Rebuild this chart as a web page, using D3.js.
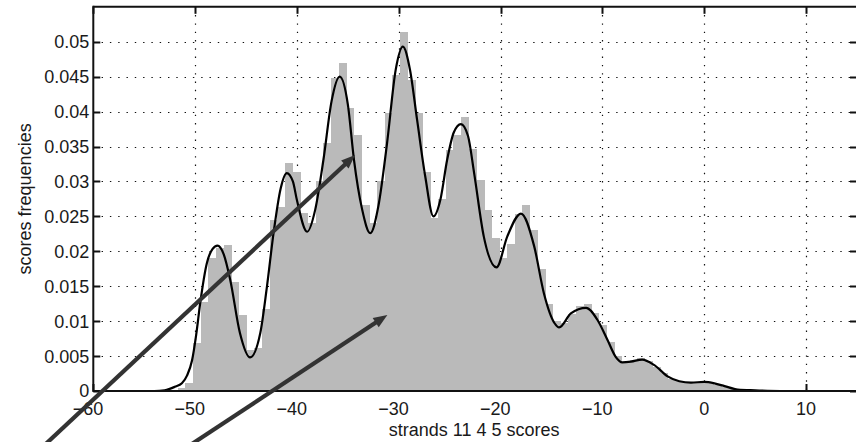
<!DOCTYPE html>
<html><head><meta charset="utf-8">
<script src="https://cdn.jsdelivr.net/npm/d3@7"></script>
<style>
html,body{margin:0;padding:0;background:#fff;overflow:hidden}
svg{display:block}
text{font-family:"Liberation Sans",Arial,Helvetica,sans-serif;fill:#1a1a1a}
</style></head><body>
<svg id="chart" width="856" height="442"></svg>
<script>
// Histogram of scores: equal-width bins starting at binStart
const binStart = -51.7;
const binWidth = 0.752;
const binFreq = [
  0.0004, 0.0011, 0.0068, 0.0128, 0.0190, 0.0205, 0.0209, 0.0156, 0.0109, 0.0058,
  0.0062, 0.0118, 0.0245, 0.0264, 0.0326, 0.0314, 0.0255, 0.0240, 0.0300, 0.0355,
  0.0448, 0.0469, 0.0405, 0.0366, 0.0266, 0.0240, 0.0300, 0.0398, 0.0452, 0.0514,
  0.0445, 0.0398, 0.0314, 0.0247, 0.0275, 0.0345, 0.0366, 0.0392, 0.0347, 0.0302,
  0.0259, 0.0219, 0.0190, 0.0210, 0.0254, 0.0266, 0.0230, 0.0175, 0.0125, 0.0100,
  0.0098, 0.0110, 0.0122, 0.0124, 0.0112, 0.0095, 0.0070, 0.0050, 0.0042, 0.0045,
  0.0047, 0.0043, 0.0035, 0.0026, 0.0017, 0.0014, 0.0013, 0.0013, 0.0013, 0.0011,
  0.0008, 0.0006, 0.0003, 0.0001
];

// Smoothed density estimate of the same scores
const curveX = [
  -58, -54, -53, -52.5, -52, -51.3, -50.8, -50.3, -49.9, -49.5,
  -48.85, -48.3, -47.8, -47.2, -46.55, -45.6, -44.6, -43.6, -42.95, -42.3,
  -41.6, -41.0, -40.4, -40.0, -39.0, -38.2, -37.4, -36.6, -35.8, -35.0,
  -34.4, -33.6, -32.8, -32.0, -31.15, -30.3, -29.6, -28.9, -28.2, -27.4,
  -26.6, -25.9, -25.25, -24.6, -23.9, -23.2, -22.6, -21.65, -20.4, -19.35,
  -18.0, -16.7, -15.75, -14.7, -14.25, -13.1, -11.6, -10.5, -9.5, -8.7,
  -8.05, -7.2, -6.1, -4.9, -3.6, -2.45, -1.3, 0, 1, 2,
  3.3, 5, 8.2
];
const curveY = [
  0, 0, 0.0001, 0.0003, 0.0006, 0.0011, 0.0022, 0.0044, 0.0080, 0.0126,
  0.0183, 0.0203, 0.0208, 0.0196, 0.0159, 0.0083, 0.0048, 0.0083, 0.0149, 0.0226,
  0.0290, 0.0312, 0.0300, 0.0273, 0.0228, 0.0260, 0.0331, 0.0415, 0.0450, 0.0410,
  0.0331, 0.0260, 0.0226, 0.0265, 0.0355, 0.0460, 0.0493, 0.0460, 0.0388, 0.0307,
  0.0250, 0.0275, 0.0331, 0.0370, 0.0382, 0.0365, 0.0312, 0.0221, 0.0177, 0.0221,
  0.0254, 0.0207, 0.0140, 0.0097, 0.0091, 0.0111, 0.0119, 0.0102, 0.0073, 0.0049,
  0.0041, 0.0042, 0.0045, 0.0037, 0.0021, 0.0014, 0.0012, 0.0013, 0.0011, 0.0007,
  0.0002, 0.0001, 0.0
];

const xTicks = [-60, -50, -40, -30, -20, -10, 0, 10];
const xTickLabels = ["\u221260", "\u221250", "\u221240", "\u221230", "\u221220", "\u221210", "0", "10"];
const yTicks = [0, 0.005, 0.01, 0.015, 0.02, 0.025, 0.03, 0.035, 0.04, 0.045, 0.05];
const yTickLabels = ["0", "0.005", "0.01", "0.015", "0.02", "0.025", "0.03", "0.035", "0.04", "0.045", "0.05"];
const xLabel = "strands 11 4 5 scores";
const yLabel = "scores frequencies";

// Annotation arrows, in data units (tails run off the bottom of the figure)
const arrowFrom = [[-67.4, -0.0113], [-54.18, -0.0113]];
const arrowTo = [[-34.29, 0.03378], [-31.12, 0.01088]];

const svg = d3.select("#chart");
const pL = 93.3, pR = 857, pT = 6.8, pB = 391;
const x = d3.scaleLinear().domain([-60, 15]).range([pL, pR]);
const y = d3.scaleLinear().domain([0, 0.055]).range([pB, pT]);
const ink = "#111";

// dotted grid
const grid = svg.append("g").attr("stroke", ink).attr("stroke-width", 1.2)
  .attr("stroke-dasharray", "1.4,6.9");
grid.selectAll("line.gx").data(xTicks.filter(t => t > -60)).join("line")
  .attr("x1", d => Math.round(x(d)) + 0.5).attr("x2", d => Math.round(x(d)) + 0.5)
  .attr("y1", pT).attr("y2", pB);
grid.selectAll("line.gy").data(yTicks.filter(t => t > 0)).join("line")
  .attr("y1", d => Math.round(y(d)) + 0.5).attr("y2", d => Math.round(y(d)) + 0.5)
  .attr("x1", pL).attr("x2", pR);

// inward tick marks on all four sides
const tk = svg.append("g").attr("stroke", ink).attr("stroke-width", 2);
const tl = 7;
xTicks.forEach(t => {
  const px = Math.round(x(t)) + 0.5;
  tk.append("line").attr("x1", px).attr("x2", px).attr("y1", pB).attr("y2", pB - tl);
  tk.append("line").attr("x1", px).attr("x2", px).attr("y1", pT).attr("y2", pT + tl);
});
yTicks.forEach(t => {
  const py = Math.round(y(t)) + 0.5;
  tk.append("line").attr("y1", py).attr("y2", py).attr("x1", pL).attr("x2", pL + tl);
  tk.append("line").attr("y1", py).attr("y2", py).attr("x1", pR).attr("x2", pR - tl);
});

// histogram bars
svg.append("g").attr("fill", "#bababa").attr("shape-rendering", "crispEdges")
  .selectAll("rect").data(binFreq).join("rect")
  .attr("x", (d, i) => x(binStart + i * binWidth))
  .attr("width", (d, i) => x(binStart + (i + 1) * binWidth) - x(binStart + i * binWidth) + 0.4)
  .attr("y", d => y(d))
  .attr("height", d => pB - y(d));

// density curve
const pts = curveX.map((v, i) => [v, curveY[i]]);
svg.append("path").datum(pts)
  .attr("fill", "none").attr("stroke", "#000").attr("stroke-width", 2.2)
  .attr("stroke-linejoin", "round")
  .attr("d", d3.line().x(d => x(d[0])).y(d => y(d[1])).curve(d3.curveMonotoneX));

// axes box
const box = svg.append("g").attr("stroke", ink).attr("stroke-width", 2).attr("fill", "none");
box.append("line").attr("x1", pL).attr("x2", pR).attr("y1", pT).attr("y2", pT);
box.append("line").attr("x1", pL).attr("x2", pR).attr("y1", pB).attr("y2", pB);
box.append("line").attr("x1", pL).attr("x2", pL).attr("y1", pT - 1).attr("y2", pB + 1);
box.append("line").attr("x1", pR).attr("x2", pR).attr("y1", pT - 1).attr("y2", pB + 1);

// tick labels
const fs = 18;
const digitW = 0.556 * fs;
svg.append("g").selectAll("text").data(yTicks).join("text")
  .attr("x", pL - 4).attr("y", d => y(d)).attr("dy", "0.36em")
  .attr("text-anchor", "end").attr("font-size", fs)
  .text((d, i) => yTickLabels[i]);
// x labels: the digits sit centred on the tick, a minus sign hangs to their left
svg.append("g").selectAll("text").data(xTicks).join("text")
  .attr("x", d => x(d) + String(Math.abs(d)).length * digitW / 2).attr("y", 415)
  .attr("text-anchor", "end").attr("font-size", fs)
  .text((d, i) => xTickLabels[i]);

// axis titles
svg.append("text").attr("x", (pL + 855) / 2).attr("y", 436)
  .attr("text-anchor", "middle").attr("font-size", fs).text(xLabel);
svg.append("text").attr("transform", `translate(31,${(pT + pB) / 2}) rotate(-90)`)
  .attr("text-anchor", "middle").attr("font-size", fs).text(yLabel);

// arrows
const arrows = svg.append("g");
arrowFrom.forEach((f, i) => {
  const x0 = x(f[0]), y0 = y(f[1]);
  const x1 = x(arrowTo[i][0]), y1 = y(arrowTo[i][1]);
  const ang = Math.atan2(y1 - y0, x1 - x0);
  const hl = 14, hw = 5.5;
  const bx = x1 - hl * Math.cos(ang), by = y1 - hl * Math.sin(ang);
  arrows.append("line").attr("x1", x0).attr("y1", y0)
    .attr("x2", bx + 2 * Math.cos(ang)).attr("y2", by + 2 * Math.sin(ang))
    .attr("stroke", "#333").attr("stroke-width", 4.2);
  const nx = -Math.sin(ang), ny = Math.cos(ang);
  arrows.append("path")
    .attr("d", `M${x1},${y1}L${bx + hw * nx},${by + hw * ny}L${bx - hw * nx},${by - hw * ny}Z`)
    .attr("fill", "#333");
});
</script>
</body></html>
